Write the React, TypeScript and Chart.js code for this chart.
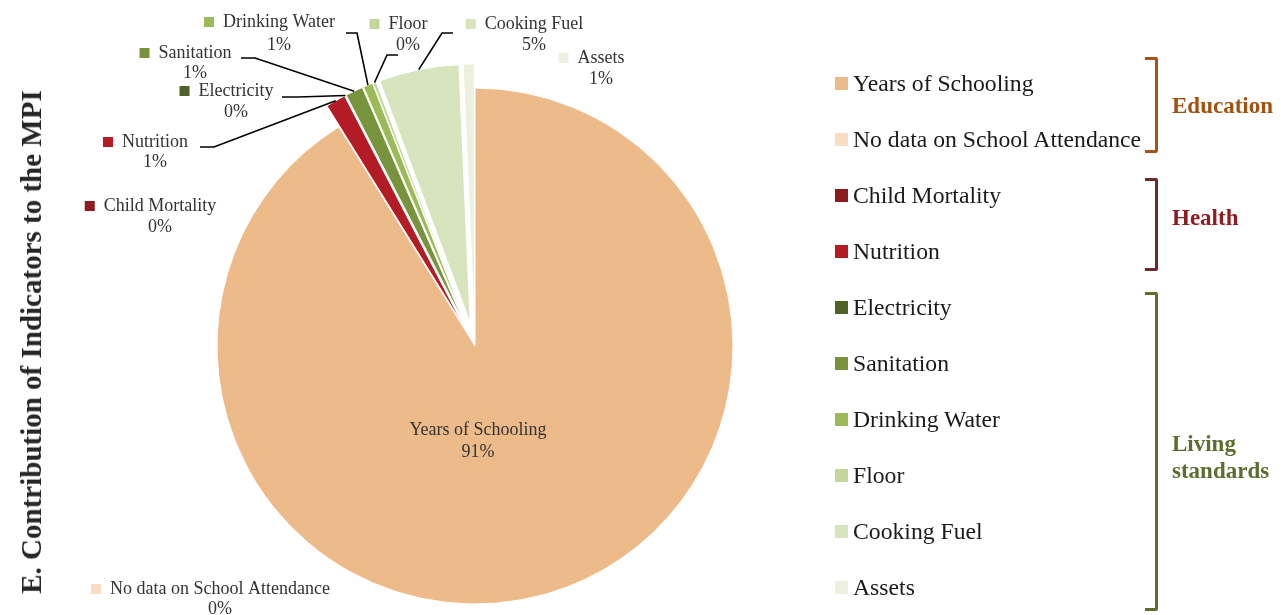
import React, { useEffect, useRef } from "react";
import { Chart, registerables } from "chart.js";

Chart.register(...registerables);

// ---- data ----
const categories = [
  "Years of Schooling",
  "No data on School Attendance",
  "Child Mortality",
  "Nutrition",
  "Electricity",
  "Sanitation",
  "Drinking Water",
  "Floor",
  "Cooking Fuel",
  "Assets",
];
const contributions = [91.2, 0, 0, 1.25, 0, 1.1, 0.6, 0.2, 5.0, 0.7];
const sliceColors = [
  "#EDBB8A",
  "#F8DCC4",
  "#8E1B1F",
  "#B31B25",
  "#4F6228",
  "#77933C",
  "#9BBB59",
  "#C3D69B",
  "#D7E4BD",
  "#EBF1DE",
];
const groupNames = [["Education"], ["Health"], ["Living", "standards"]];
const groupColors = ["#A0520F", "#8E1C22", "#5B6E2F"];
const bracketColors = ["#A5541A", "#6B2A2C", "#5B6E2F"];
const titleText = "E. Contribution of Indicators to the MPI";

// ---- layout (placement only) ----
const EXPLODE = 24; // px distance the small slices are pulled out
const bracketSpans = [
  [57, 153],
  [178, 271],
  [292, 611],
];
const groupLabelCenters = [105, 217, 457];

type LabelLayout = {
  cx: number;
  y1: number;
  y2: number;
  marker: boolean;
  leader?: { elbow: [number, number]; end: [number, number] };
};
const labelLayout: LabelLayout[] = [
  { cx: 478, y1: 430, y2: 452, marker: false },
  { cx: 220, y1: 589, y2: 609, marker: true },
  { cx: 160, y1: 206, y2: 227, marker: true },
  { cx: 155, y1: 142, y2: 162, marker: true, leader: { elbow: [214, 147], end: [200, 147] } },
  { cx: 236, y1: 91, y2: 112, marker: true, leader: { elbow: [298, 97], end: [282, 97] } },
  { cx: 195, y1: 53, y2: 73, marker: true, leader: { elbow: [255, 58], end: [241, 58] } },
  { cx: 279, y1: 22, y2: 45, marker: true, leader: { elbow: [357, 33], end: [346, 33] } },
  { cx: 408, y1: 24, y2: 45, marker: true, leader: { elbow: [387, 55], end: [398, 55] } },
  { cx: 534, y1: 24, y2: 45, marker: true, leader: { elbow: [442, 33], end: [453, 33] } },
  { cx: 601, y1: 58, y2: 79, marker: true },
];

const SERIF = '"Liberation Serif", "Times New Roman", serif';

// pulls every slice but the first outward along its own bisector
const explodePlugin = {
  id: "explodeSlices",
  afterDatasetUpdate(chart: any, args: any) {
    const arcs = args.meta.data;
    arcs.forEach((arc: any, i: number) => {
      if (i === 0) return;
      const half = (arc.startAngle + arc.endAngle) / 2;
      arc.x = arc.x + Math.cos(half) * EXPLODE;
      arc.y = arc.y + Math.sin(half) * EXPLODE;
    });
  },
};

const labelPlugin = {
  id: "sliceLabels",
  afterDatasetsDraw(chart: any) {
    const ctx = chart.ctx as CanvasRenderingContext2D;
    const meta = chart.getDatasetMeta(0);
    const values = chart.data.datasets[0].data as number[];
    const total = values.reduce((a, b) => a + b, 0);
    ctx.save();
    ctx.strokeStyle = "#000";
    ctx.lineWidth = 1.6;
    meta.data.forEach((arc: any, i: number) => {
      const lay = labelLayout[i];
      if (!lay || !lay.leader) return;
      const half = (arc.startAngle + arc.endAngle) / 2;
      const sx = arc.x + Math.cos(half) * arc.outerRadius;
      const sy = arc.y + Math.sin(half) * arc.outerRadius;
      ctx.beginPath();
      ctx.moveTo(sx, sy);
      ctx.lineTo(lay.leader.elbow[0], lay.leader.elbow[1]);
      ctx.lineTo(lay.leader.end[0], lay.leader.end[1]);
      ctx.stroke();
    });
    ctx.font = "18px " + SERIF;
    ctx.textAlign = "center";
    ctx.textBaseline = "middle";
    categories.forEach((name, i) => {
      const lay = labelLayout[i];
      if (!lay) return;
      const pct = Math.round((values[i] / total) * 100) + "%";
      ctx.fillStyle = "#333";
      ctx.fillText(name, lay.cx, lay.y1);
      ctx.fillText(pct, lay.cx, lay.y2);
      if (lay.marker) {
        const w = ctx.measureText(name).width;
        ctx.fillStyle = sliceColors[i];
        ctx.fillRect(lay.cx - w / 2 - 19, lay.y1 - 5, 10, 10);
      }
    });
    ctx.restore();
  },
};

export default function App() {
  const canvasRef = useRef<HTMLCanvasElement | null>(null);

  useEffect(() => {
    document.body.style.margin = "0";
    const canvas = canvasRef.current;
    if (!canvas) return;
    const chart = new Chart(canvas, {
      type: "pie",
      data: {
        labels: categories,
        datasets: [
          {
            data: contributions,
            backgroundColor: sliceColors,
            borderColor: "#ffffff",
            borderWidth: 1,
            radius: 258,
          } as any,
        ],
      },
      options: {
        animation: false,
        responsive: false,
        devicePixelRatio: 1,
        layout: { padding: { left: 200, right: 531, top: 100, bottom: 23 } },
        plugins: {
          legend: { display: false },
          tooltip: { enabled: false },
        },
        events: [],
      } as any,
      plugins: [explodePlugin, labelPlugin],
    });
    return () => chart.destroy();
  }, []);

  const rowY = (i: number) => 83 + 56.1 * i;

  return (
    <div style={{ position: "fixed", left: 0, top: 0, width: 1281, height: 615, background: "#fff", overflow: "hidden" }}>
      <canvas ref={canvasRef} width={1281} height={615} style={{ position: "absolute", left: 0, top: 0, width: 1281, height: 615 }} />
      <div
        style={{
          position: "absolute",
          left: 31,
          top: 342,
          transform: "translate(-50%, -50%) rotate(-90deg)",
          whiteSpace: "nowrap",
          fontFamily: SERIF,
          fontWeight: "bold",
          fontSize: 29,
          color: "#262626",
          lineHeight: "32px",
        }}
      >
        {titleText}
      </div>
      {categories.map((c, i) => (
        <div
          key={c}
          style={{
            position: "absolute",
            left: 835,
            top: rowY(i) - 15,
            height: 30,
            display: "flex",
            alignItems: "center",
            whiteSpace: "nowrap",
            fontFamily: SERIF,
            fontSize: 23.7,
            color: "#1a1a1a",
          }}
        >
          <span style={{ display: "inline-block", width: 13, height: 13, background: sliceColors[i], marginRight: 5 }} />
          <span>{c}</span>
        </div>
      ))}
      {groupNames.map((name, gi) => {
        const [top, bottom] = bracketSpans[gi];
        return (
          <React.Fragment key={gi}>
            <div
              style={{
                position: "absolute",
                left: 1145,
                top,
                width: 13,
                height: bottom - top,
                boxSizing: "border-box",
                borderTop: `3px solid ${bracketColors[gi]}`,
                borderRight: `3px solid ${bracketColors[gi]}`,
                borderBottom: `3px solid ${bracketColors[gi]}`,
                borderTopRightRadius: 3,
                borderBottomRightRadius: 3,
              }}
            />
            <div
              style={{
                position: "absolute",
                left: 1172,
                top: groupLabelCenters[gi],
                transform: "translateY(-50%)",
                fontFamily: SERIF,
                fontWeight: "bold",
                fontSize: 23,
                lineHeight: "27px",
                color: groupColors[gi],
                whiteSpace: "nowrap",
              }}
            >
              {name.map((n) => (
                <div key={n}>{n}</div>
              ))}
            </div>
          </React.Fragment>
        );
      })}
    </div>
  );
}
